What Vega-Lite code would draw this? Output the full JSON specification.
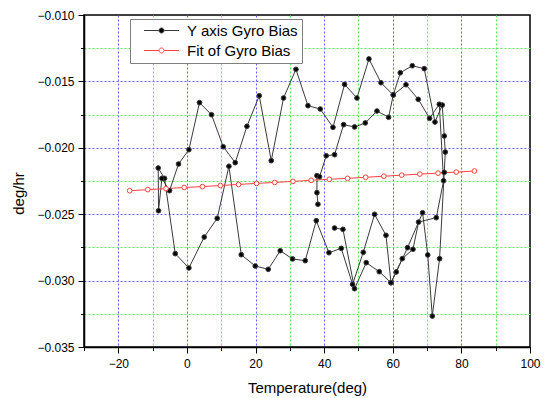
{
  "$schema": "https://vega.github.io/schema/vega-lite/v6.json",
  "width": 446,
  "height": 332,
  "autosize": "none",
  "padding": {"left": 84, "top": 15, "right": 21, "bottom": 51},
  "background": "white",
  "config": {
    "view": {"stroke": "black", "strokeWidth": 1.5},
    "font": "Liberation Sans",
    "axis": {"labelFont": "Liberation Sans", "titleFont": "Liberation Sans", "labelColor": "#000", "titleColor": "#000", "titleFontWeight": "normal"}
  },
  "data": {
    "values": [
      {"s": "Y axis Gyro Bias", "i": 1, "t": 38.19, "b": -0.02425},
      {"s": "Y axis Gyro Bias", "i": 2, "t": 37.90, "b": -0.02338},
      {"s": "Y axis Gyro Bias", "i": 3, "t": 37.90, "b": -0.02210},
      {"s": "Y axis Gyro Bias", "i": 4, "t": 38.66, "b": -0.02218},
      {"s": "Y axis Gyro Bias", "i": 5, "t": 40.61, "b": -0.02060},
      {"s": "Y axis Gyro Bias", "i": 6, "t": 43.03, "b": -0.02052},
      {"s": "Y axis Gyro Bias", "i": 7, "t": 45.66, "b": -0.01826},
      {"s": "Y axis Gyro Bias", "i": 8, "t": 48.86, "b": -0.01843},
      {"s": "Y axis Gyro Bias", "i": 9, "t": 51.98, "b": -0.01813},
      {"s": "Y axis Gyro Bias", "i": 10, "t": 55.39, "b": -0.01723},
      {"s": "Y axis Gyro Bias", "i": 11, "t": 58.78, "b": -0.01770},
      {"s": "Y axis Gyro Bias", "i": 12, "t": 60.15, "b": -0.01602},
      {"s": "Y axis Gyro Bias", "i": 13, "t": 62.19, "b": -0.01435},
      {"s": "Y axis Gyro Bias", "i": 14, "t": 65.69, "b": -0.01382},
      {"s": "Y axis Gyro Bias", "i": 15, "t": 69.18, "b": -0.01404},
      {"s": "Y axis Gyro Bias", "i": 16, "t": 72.30, "b": -0.01806},
      {"s": "Y axis Gyro Bias", "i": 17, "t": 74.43, "b": -0.01678},
      {"s": "Y axis Gyro Bias", "i": 18, "t": 75.01, "b": -0.01911},
      {"s": "Y axis Gyro Bias", "i": 19, "t": 75.31, "b": -0.02032},
      {"s": "Y axis Gyro Bias", "i": 20, "t": 75.01, "b": -0.02185},
      {"s": "Y axis Gyro Bias", "i": 21, "t": 73.64, "b": -0.02835},
      {"s": "Y axis Gyro Bias", "i": 22, "t": 71.52, "b": -0.03267},
      {"s": "Y axis Gyro Bias", "i": 23, "t": 70.20, "b": -0.02807},
      {"s": "Y axis Gyro Bias", "i": 24, "t": 68.69, "b": -0.02489},
      {"s": "Y axis Gyro Bias", "i": 25, "t": 64.31, "b": -0.02752},
      {"s": "Y axis Gyro Bias", "i": 26, "t": 61.02, "b": -0.02935},
      {"s": "Y axis Gyro Bias", "i": 27, "t": 59.48, "b": -0.03016},
      {"s": "Y axis Gyro Bias", "i": 28, "t": 58.02, "b": -0.02659},
      {"s": "Y axis Gyro Bias", "i": 29, "t": 54.69, "b": -0.02501},
      {"s": "Y axis Gyro Bias", "i": 30, "t": 51.40, "b": -0.02787},
      {"s": "Y axis Gyro Bias", "i": 31, "t": 48.28, "b": -0.03028},
      {"s": "Y axis Gyro Bias", "i": 32, "t": 44.99, "b": -0.02757},
      {"s": "Y axis Gyro Bias", "i": 33, "t": 41.40, "b": -0.02790},
      {"s": "Y axis Gyro Bias", "i": 34, "t": 37.70, "b": -0.02549},
      {"s": "Y axis Gyro Bias", "i": 35, "t": 34.49, "b": -0.02850},
      {"s": "Y axis Gyro Bias", "i": 36, "t": 30.79, "b": -0.02837},
      {"s": "Y axis Gyro Bias", "i": 37, "t": 27.20, "b": -0.02775},
      {"s": "Y axis Gyro Bias", "i": 38, "t": 23.70, "b": -0.02915},
      {"s": "Y axis Gyro Bias", "i": 39, "t": 19.91, "b": -0.02890},
      {"s": "Y axis Gyro Bias", "i": 40, "t": 15.83, "b": -0.02805},
      {"s": "Y axis Gyro Bias", "i": 41, "t": 12.24, "b": -0.02139},
      {"s": "Y axis Gyro Bias", "i": 42, "t": 8.83, "b": -0.02531},
      {"s": "Y axis Gyro Bias", "i": 43, "t": 5.04, "b": -0.02672},
      {"s": "Y axis Gyro Bias", "i": 44, "t": 0.58, "b": -0.02905},
      {"s": "Y axis Gyro Bias", "i": 45, "t": -3.41, "b": -0.02797},
      {"s": "Y axis Gyro Bias", "i": 46, "t": -6.53, "b": -0.02230},
      {"s": "Y axis Gyro Bias", "i": 47, "t": -8.37, "b": -0.02152},
      {"s": "Y axis Gyro Bias", "i": 48, "t": -8.28, "b": -0.02474},
      {"s": "Y axis Gyro Bias", "i": 49, "t": -7.29, "b": -0.02230},
      {"s": "Y axis Gyro Bias", "i": 50, "t": -5.07, "b": -0.02323},
      {"s": "Y axis Gyro Bias", "i": 51, "t": -2.45, "b": -0.02122},
      {"s": "Y axis Gyro Bias", "i": 52, "t": 0.58, "b": -0.02014},
      {"s": "Y axis Gyro Bias", "i": 53, "t": 3.67, "b": -0.01660},
      {"s": "Y axis Gyro Bias", "i": 54, "t": 7.17, "b": -0.01751},
      {"s": "Y axis Gyro Bias", "i": 55, "t": 10.58, "b": -0.01992},
      {"s": "Y axis Gyro Bias", "i": 56, "t": 14.08, "b": -0.02112},
      {"s": "Y axis Gyro Bias", "i": 57, "t": 17.49, "b": -0.01838},
      {"s": "Y axis Gyro Bias", "i": 58, "t": 21.08, "b": -0.01608},
      {"s": "Y axis Gyro Bias", "i": 59, "t": 24.58, "b": -0.02097},
      {"s": "Y axis Gyro Bias", "i": 60, "t": 28.16, "b": -0.01625},
      {"s": "Y axis Gyro Bias", "i": 61, "t": 31.78, "b": -0.01409},
      {"s": "Y axis Gyro Bias", "i": 62, "t": 35.28, "b": -0.01683},
      {"s": "Y axis Gyro Bias", "i": 63, "t": 38.86, "b": -0.01708},
      {"s": "Y axis Gyro Bias", "i": 64, "t": 42.57, "b": -0.01846},
      {"s": "Y axis Gyro Bias", "i": 65, "t": 45.95, "b": -0.01522},
      {"s": "Y axis Gyro Bias", "i": 66, "t": 49.56, "b": -0.01625},
      {"s": "Y axis Gyro Bias", "i": 67, "t": 53.06, "b": -0.01331},
      {"s": "Y axis Gyro Bias", "i": 68, "t": 56.56, "b": -0.01510},
      {"s": "Y axis Gyro Bias", "i": 69, "t": 60.15, "b": -0.01602},
      {"s": "Y axis Gyro Bias", "i": 70, "t": 63.85, "b": -0.01525},
      {"s": "Y axis Gyro Bias", "i": 71, "t": 67.43, "b": -0.01635},
      {"s": "Y axis Gyro Bias", "i": 72, "t": 70.73, "b": -0.01778},
      {"s": "Y axis Gyro Bias", "i": 73, "t": 73.56, "b": -0.01672},
      {"s": "Y axis Gyro Bias", "i": 74, "t": 74.81, "b": -0.02248},
      {"s": "Y axis Gyro Bias", "i": 75, "t": 72.68, "b": -0.02526},
      {"s": "Y axis Gyro Bias", "i": 76, "t": 67.52, "b": -0.02559},
      {"s": "Y axis Gyro Bias", "i": 77, "t": 65.89, "b": -0.02764},
      {"s": "Y axis Gyro Bias", "i": 78, "t": 62.77, "b": -0.02835},
      {"s": "Y axis Gyro Bias", "i": 79, "t": 59.48, "b": -0.03016},
      {"s": "Y axis Gyro Bias", "i": 80, "t": 56.06, "b": -0.02933},
      {"s": "Y axis Gyro Bias", "i": 81, "t": 52.27, "b": -0.02865},
      {"s": "Y axis Gyro Bias", "i": 82, "t": 48.86, "b": -0.03061},
      {"s": "Y axis Gyro Bias", "i": 83, "t": 45.48, "b": -0.02614},
      {"s": "Y axis Gyro Bias", "i": 84, "t": 43.03, "b": -0.02604},
      {"s": "Fit of Gyro Bias", "i": 1, "t": -16.7, "b": -0.02323},
      {"s": "Fit of Gyro Bias", "i": 2, "t": -11.4, "b": -0.02315},
      {"s": "Fit of Gyro Bias", "i": 3, "t": -6.1, "b": -0.02307},
      {"s": "Fit of Gyro Bias", "i": 4, "t": -0.8, "b": -0.02299},
      {"s": "Fit of Gyro Bias", "i": 5, "t": 4.5, "b": -0.02292},
      {"s": "Fit of Gyro Bias", "i": 6, "t": 9.75, "b": -0.02284},
      {"s": "Fit of Gyro Bias", "i": 7, "t": 15.05, "b": -0.02276},
      {"s": "Fit of Gyro Bias", "i": 8, "t": 20.3, "b": -0.02268},
      {"s": "Fit of Gyro Bias", "i": 9, "t": 25.6, "b": -0.02261},
      {"s": "Fit of Gyro Bias", "i": 10, "t": 30.9, "b": -0.02253},
      {"s": "Fit of Gyro Bias", "i": 11, "t": 36.2, "b": -0.02245},
      {"s": "Fit of Gyro Bias", "i": 12, "t": 41.5, "b": -0.02237},
      {"s": "Fit of Gyro Bias", "i": 13, "t": 46.8, "b": -0.02230},
      {"s": "Fit of Gyro Bias", "i": 14, "t": 52.1, "b": -0.02222},
      {"s": "Fit of Gyro Bias", "i": 15, "t": 57.4, "b": -0.02214},
      {"s": "Fit of Gyro Bias", "i": 16, "t": 62.6, "b": -0.02206},
      {"s": "Fit of Gyro Bias", "i": 17, "t": 67.9, "b": -0.02198},
      {"s": "Fit of Gyro Bias", "i": 18, "t": 73.2, "b": -0.02191},
      {"s": "Fit of Gyro Bias", "i": 19, "t": 78.5, "b": -0.02183},
      {"s": "Fit of Gyro Bias", "i": 20, "t": 83.8, "b": -0.02175}
    ]
  },
  "encoding": {
    "x": {
      "field": "t", "type": "quantitative",
      "scale": {"domain": [-30, 100], "nice": false, "zero": false},
      "axis": {
        "title": "Temperature(deg)",
        "values": [-30, -20, -10, 0, 10, 20, 30, 40, 50, 60, 70, 80, 90, 100],
        "labelExpr": "datum.value % 20 === 0 ? datum.label : ''",
        "labelFontSize": 12, "labelPadding": 5, "labelFlush": false,
        "titleFontSize": 15, "titlePadding": 11, "titleFontWeight": "normal",
        "domainColor": "black", "domainWidth": 1.5,
        "tickColor": "black", "tickWidth": 1,
        "tickSize": {"condition": {"test": "datum.value % 20 === 0", "value": 6}, "value": 3.5},
        "grid": true, "gridDash": [2, 2], "gridWidth": 1,
        "gridColor": {"condition": {"test": "datum.value % 20 === 0", "value": "#6262ff"}, "value": "#5ae85a"},
        "gridOpacity": {"condition": {"test": "datum.value === -30 || datum.value === 100", "value": 0}, "value": 1}
      }
    },
    "y": {
      "field": "b", "type": "quantitative",
      "scale": {"domain": [-0.035, -0.010], "nice": false, "zero": false},
      "axis": {
        "title": "deg/hr",
        "values": [-0.035, -0.0325, -0.03, -0.0275, -0.025, -0.0225, -0.02, -0.0175, -0.015, -0.0125, -0.01],
        "format": ".3f",
        "labelExpr": "round(datum.value * 10000) % 50 === 0 ? datum.label : ''",
        "labelFontSize": 12, "labelPadding": 4, "labelFlush": false,
        "titleFontSize": 15, "titlePadding": 10, "titleFontWeight": "normal", "titleY": 178,
        "domainColor": "black", "domainWidth": 1.5,
        "tickColor": "black", "tickWidth": 1,
        "tickSize": {"condition": {"test": "round(datum.value * 10000) % 50 === 0", "value": 6}, "value": 3.5},
        "grid": true, "gridDash": [2, 2], "gridWidth": 1,
        "gridColor": {"condition": {"test": "round(datum.value * 10000) % 50 === 0", "value": "#6262ff"}, "value": "#5ae85a"},
        "gridOpacity": {"condition": {"test": "datum.value <= -0.0349 || datum.value >= -0.0101", "value": 0}, "value": 1}
      }
    }
  },
  "layer": [
    {
      "mark": {"type": "line", "strokeWidth": 1},
      "encoding": {
        "order": {"field": "i", "type": "quantitative"},
        "detail": {"field": "s"},
        "stroke": {
          "field": "s", "type": "nominal",
          "scale": {"domain": ["Y axis Gyro Bias", "Fit of Gyro Bias"], "range": ["#3a3a3a", "#ff4040"]},
          "legend": {
            "title": null, "orient": "none", "legendX": 46, "legendY": 4,
            "strokeColor": "#808080", "fillColor": "white", "padding": 4,
            "symbolType": "M-3.5,0L-0.55,0M0.55,0L3.5,0M-0.5,0A0.5,0.5,0,1,1,0.5,0A0.5,0.5,0,1,1,-0.5,0",
            "symbolSize": 100, "symbolStrokeWidth": 1, "symbolOffset": 20,
            "labelFontSize": 15, "labelFont": "Liberation Sans", "labelColor": "#000", "labelOffset": 18,
            "rowPadding": 4, "labelLimit": 300,
            "encode": {"symbols": {"update": {"fill": {"signal": "datum.value === 'Fit of Gyro Bias' ? 'white' : 'black'"}, "fillOpacity": {"value": 1}}}}
          }
        }
      }
    },
    {
      "mark": {"type": "point", "filled": false, "size": 22, "strokeWidth": 1, "opacity": 1},
      "encoding": {
        "stroke": {"field": "s", "type": "nominal", "legend": null},
        "fill": {
          "field": "s", "type": "nominal",
          "scale": {"domain": ["Y axis Gyro Bias", "Fit of Gyro Bias"], "range": ["#000000", "#ffffff"]},
          "legend": null
        }
      }
    }
  ]
}
